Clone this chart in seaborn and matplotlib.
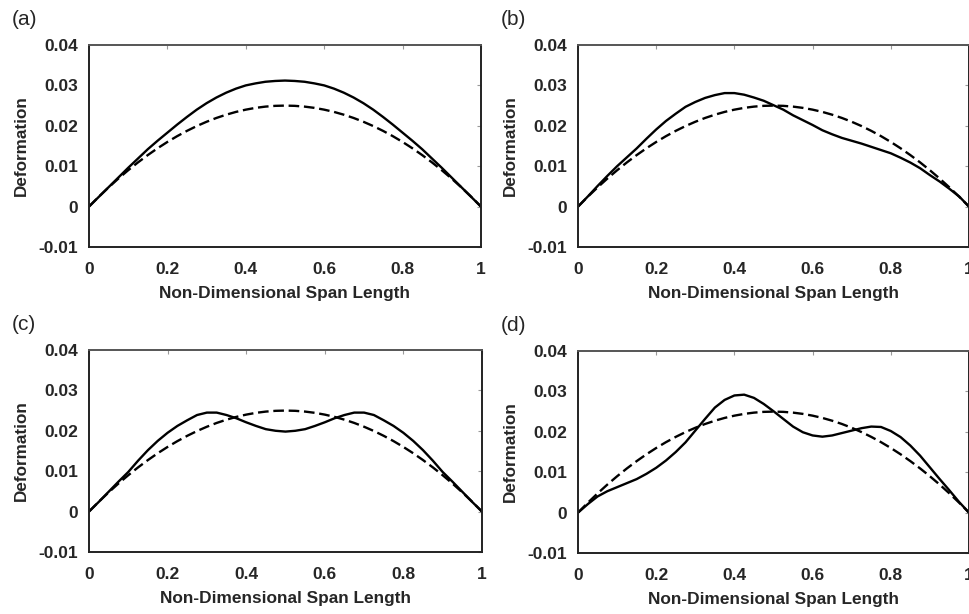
import matplotlib
matplotlib.use('Agg')
from matplotlib import pyplot as plt
import seaborn as sns

# span positions (non-dimensional), 0.025 step
span = [0, 0.025, 0.05, 0.075, 0.1, 0.125, 0.15, 0.175, 0.2, 0.225,
        0.25, 0.275, 0.3, 0.325, 0.35, 0.375, 0.4, 0.425, 0.45, 0.475,
        0.5, 0.525, 0.55, 0.575, 0.6, 0.625, 0.65, 0.675, 0.7, 0.725,
        0.75, 0.775, 0.8, 0.825, 0.85, 0.875, 0.9, 0.925, 0.95, 0.975, 1.0]

# reference (dashed) deformation, same in every panel
reference = [0, 0.00244, 0.00475, 0.00694, 0.009, 0.01094, 0.01275, 0.01444, 0.016, 0.01744,
             0.01875, 0.01994, 0.021, 0.02194, 0.02275, 0.02344, 0.024, 0.02444, 0.02475, 0.02494,
             0.025, 0.02494, 0.02475, 0.02444, 0.024, 0.02344, 0.02275, 0.02194, 0.021, 0.01994,
             0.01875, 0.01744, 0.016, 0.01444, 0.01275, 0.01094, 0.009, 0.00694, 0.00475, 0.00244, 0]

# solid curves
defl_a = [0, 0.0024, 0.0048, 0.0072, 0.0096, 0.0119, 0.0142, 0.0163, 0.0183, 0.0203,
          0.0222, 0.0240, 0.0256, 0.0270, 0.0282, 0.0292, 0.0300, 0.0305, 0.0309, 0.0311,
          0.0312, 0.0311, 0.0309, 0.0305, 0.0300, 0.0292, 0.0282, 0.0270, 0.0256, 0.0240,
          0.0222, 0.0203, 0.0183, 0.0163, 0.0142, 0.0119, 0.0096, 0.0072, 0.0048, 0.0024, 0]
defl_b = [0, 0.0025, 0.0051, 0.0076, 0.0100, 0.0122, 0.0144, 0.0168, 0.0191, 0.0212,
          0.0230, 0.0247, 0.0259, 0.0269, 0.0276, 0.0281, 0.0281, 0.0277, 0.0270, 0.0262,
          0.0251, 0.0240, 0.0226, 0.0214, 0.0202, 0.0189, 0.0179, 0.0170, 0.0163, 0.0156,
          0.0148, 0.0140, 0.0132, 0.0121, 0.0109, 0.0095, 0.0078, 0.0062, 0.0044, 0.0025, 0]
defl_c = [0, 0.0024, 0.0049, 0.0074, 0.0098, 0.0126, 0.0152, 0.0175, 0.0195, 0.0212,
          0.0226, 0.0239, 0.0245, 0.0245, 0.0239, 0.0231, 0.0221, 0.0212, 0.0204, 0.0200,
          0.0198, 0.0200, 0.0204, 0.0212, 0.0221, 0.0231, 0.0239, 0.0245, 0.0245, 0.0239,
          0.0226, 0.0212, 0.0195, 0.0175, 0.0152, 0.0126, 0.0098, 0.0074, 0.0049, 0.0024, 0]
defl_d = [0, 0.0021, 0.0040, 0.0053, 0.0063, 0.0073, 0.0083, 0.0096, 0.0111, 0.0129,
          0.0150, 0.0174, 0.0203, 0.0232, 0.0260, 0.0279, 0.0290, 0.0292, 0.0284, 0.0269,
          0.0251, 0.0232, 0.0213, 0.0199, 0.0191, 0.0188, 0.0191, 0.0197, 0.0203, 0.0209,
          0.0213, 0.0212, 0.0202, 0.0187, 0.0166, 0.0141, 0.0112, 0.0083, 0.0055, 0.0026, 0]

panel_tags = ['(a)', '(b)', '(c)', '(d)']
x_ticks = [0, 0.2, 0.4, 0.6, 0.8, 1.0]
x_ticklabels = ['0', '0.2', '0.4', '0.6', '0.8', '1']
y_ticks = [-0.01, 0, 0.01, 0.02, 0.03, 0.04]
y_ticklabels = ['-0.01', '0', '0.01', '0.02', '0.03', '0.04']

sns.set_style('white')
plt.rcParams['font.family'] = ['Liberation Sans', 'DejaVu Sans']

fig = plt.figure(figsize=(9.69, 6.14), dpi=100)
# axes boxes [left, bottom, width, height] in figure fractions
boxes = [[0.0918, 0.5977, 0.4046, 0.329],
         [0.5965, 0.5977, 0.4035, 0.329],
         [0.0918, 0.1010, 0.4056, 0.329],
         [0.5965, 0.0993, 0.4035, 0.329]]

for tag, box, defl in zip(panel_tags, boxes, [defl_a, defl_b, defl_c, defl_d]):
    ax = fig.add_axes(box)
    sns.lineplot(x=span, y=reference, ax=ax, color='black', lw=1.7,
                 linestyle=(0, (4.5, 2)))
    sns.lineplot(x=span, y=defl, ax=ax, color='black', lw=1.7)
    ax.set_xlim(0, 1)
    ax.set_ylim(-0.01, 0.04)
    ax.set_xticks(x_ticks)
    ax.set_xticklabels(x_ticklabels, fontsize=12.5, fontweight='bold')
    ax.set_yticks(y_ticks)
    ax.set_yticklabels(y_ticklabels, fontsize=12.5, fontweight='bold')
    ax.tick_params(direction='in', length=3, width=0.8, color='#999999',
                   top=True, right=True)
    ax.tick_params(axis='x', pad=11)
    ax.tick_params(axis='y', pad=8)
    ax.set_xlabel('Non-Dimensional Span Length', fontsize=12.4, fontweight='bold',
                  labelpad=6)
    ax.set_ylabel('Deformation', fontsize=12.3, fontweight='bold', labelpad=7)
    for name, sp in ax.spines.items():
        sp.set_visible(True)
        sp.set_linewidth(1.4)
        sp.set_color('#222222' if name != 'top' else '#555555')
    fig.text(box[0] - 0.08, box[1] + box[3] + 0.042, tag, fontsize=15,
             ha='left', va='center')

plt.savefig('out.png', dpi=100)
